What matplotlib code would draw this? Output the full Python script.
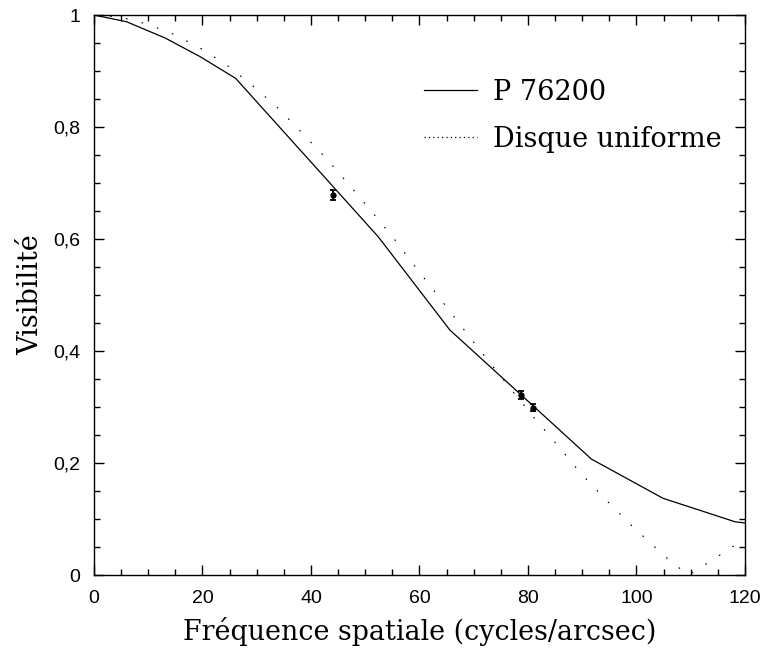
import matplotlib
matplotlib.use("Agg")
import matplotlib.pyplot as plt
from matplotlib.lines import Line2D
from matplotlib.ticker import MultipleLocator, FuncFormatter

# Model: P 76200 (solid)
p_freq = [0, 6.0, 13.1, 19.5, 26.1, 39.3, 52.4, 65.6, 78.7, 91.7, 104.9, 118.2, 120]
p_vis = [1.0, 0.988, 0.959, 0.926, 0.887, 0.745, 0.604, 0.4375, 0.322, 0.207, 0.137, 0.095, 0.093]

# Uniform disk (dotted)
d_freq = [0, 5, 9.7, 14.6, 19.4, 24.3, 29.1, 34.0, 38.4, 43.1, 47.1, 51.2, 55.1,
          58.7, 62.5, 66.4, 70.0, 73.9, 77.6, 81.3, 85.0, 89.7, 94.1, 98.8,
          103.6, 106.0, 108.5, 109.6, 112.9, 115.6, 117.8, 120.3]
d_vis = [1.0, 0.996, 0.984, 0.966, 0.942, 0.912, 0.875, 0.833, 0.789, 0.741, 0.696,
         0.649, 0.603, 0.557, 0.510, 0.461, 0.4155, 0.368, 0.323, 0.279, 0.237,
         0.182, 0.137, 0.091, 0.048, 0.027, 0.008, 0.0, 0.020, 0.037, 0.051, 0.064]

# Measurements
m_freq = [44.1, 78.8, 81.0]
m_vis = [0.679, 0.321, 0.299]
m_err = [0.009, 0.007, 0.006]

serif = ["DejaVu Serif"]
sans = ["Liberation Sans", "DejaVu Sans"]

fig = plt.figure(figsize=(7.68, 6.53), dpi=100)
ax = fig.add_axes([0.1224, 0.1194, 0.8476, 0.8576])

ax.plot(p_freq, p_vis, color="black", lw=0.9)
ax.plot(d_freq, d_vis, color="black", lw=0.8, linestyle=(0, (1.5, 13)))
ax.errorbar(m_freq, m_vis, yerr=m_err, fmt="o", color="black", ms=3.5,
            capsize=2.5, elinewidth=1.3, capthick=1.3)

ax.set_xlim(0, 120)
ax.set_ylim(0, 1)
ax.xaxis.set_major_locator(MultipleLocator(20))
ax.xaxis.set_minor_locator(MultipleLocator(5))
ax.yaxis.set_major_locator(MultipleLocator(0.2))
ax.yaxis.set_minor_locator(MultipleLocator(0.05))
ax.yaxis.set_major_formatter(FuncFormatter(lambda v, p: ("%g" % round(v, 2)).replace(".", ",")))
ax.tick_params(which="both", direction="in", top=True, right=True, width=1.0)
ax.tick_params(which="major", length=7, labelsize=14)
ax.tick_params(axis="x", which="major", pad=11)
ax.tick_params(axis="y", which="major", pad=10)
ax.tick_params(which="minor", length=4)
for lab in ax.get_xticklabels() + ax.get_yticklabels():
    lab.set_family(sans)
for s in ax.spines.values():
    s.set_linewidth(1.0)

ax.set_xlabel("Fréquence spatiale (cycles/arcsec)", family=serif, fontsize=19.4, labelpad=7)
ax.set_ylabel("Visibilité", family=serif, fontsize=19.5, labelpad=6)

handles = [Line2D([], [], color="black", lw=0.9),
           Line2D([], [], color="black", lw=0.9, linestyle=(0, (1, 2.5)))]
leg = ax.legend(handles, ["P 76200", "Disque uniforme"], loc="upper right",
                bbox_to_anchor=(1.002, 0.93), frameon=False, handlelength=1.95,
                handletextpad=0.6, labelspacing=0.75,
                prop={"family": serif, "size": 19.5})

fig.savefig("out.png", dpi=100)
